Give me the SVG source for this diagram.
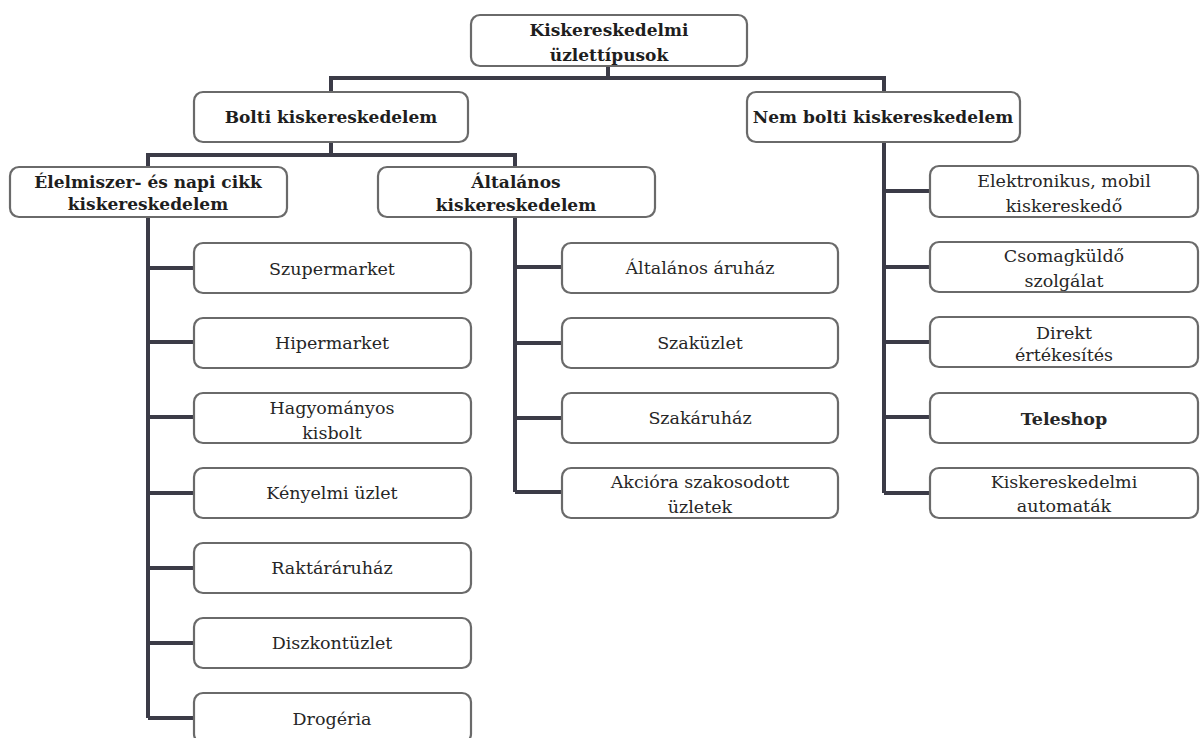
<svg xmlns="http://www.w3.org/2000/svg" width="1201" height="738" viewBox="0 0 1201 738">
<style>
.box{fill:#fff;stroke:#6a6a6a;stroke-width:2.2}
.h{font-family:"DejaVu Serif","Liberation Serif",serif;font-weight:bold;font-size:17px;fill:#1e1e1e;text-anchor:middle}
.t{font-family:"DejaVu Serif","Liberation Serif",serif;font-size:17.5px;fill:#262626;text-anchor:middle}
.b{font-weight:bold}
.c{fill:none;stroke:#3b3b47;stroke-width:4}
</style>
<rect width="1201" height="738" fill="#fff"/>
<g id="connectors" class="c">
<path d="M608,66 V78 M331,92 V78 H884 V92"/>
<path d="M331,142 V155 M148,167 V155 H515 V167"/>
<path d="M148,217 V718 M148,268 H194 M148,342 H194 M148,417 H194 M148,493 H194 M148,568 H194 M148,643 H194 M148,718 H194"/>
<path d="M515,217 V492 M515,267 H562 M515,343 H562 M515,418 H562 M515,492 H562"/>
<path d="M884,142 V493 M884,191 H930 M884,267 H930 M884,342 H930 M884,417 H930 M884,493 H930"/>
</g>
<g id="root"><rect class="box" x="471" y="15" width="276" height="51" rx="9"/><text class="h" x="609" y="36">Kiskereskedelmi</text><text class="h" x="609" y="61">üzlettípusok</text></g>
<g id="bolti"><rect class="box" x="194" y="92" width="274" height="50" rx="9"/><text class="h" x="331" y="123">Bolti kiskereskedelem</text></g>
<g id="nembolti"><rect class="box" x="747" y="92" width="273" height="50" rx="9"/><text class="h" x="883" y="123">Nem bolti kiskereskedelem</text></g>
<g id="elelmiszer"><rect class="box" x="10" y="167" width="277" height="50" rx="9"/><text class="h" x="148" y="188">Élelmiszer- és napi cikk</text><text class="h" x="148" y="210">kiskereskedelem</text></g>
<g id="altalanos"><rect class="box" x="378" y="167" width="277" height="50" rx="9"/><text class="h" x="516" y="188">Általános</text><text class="h" x="516" y="211">kiskereskedelem</text></g>
<g id="szupermarket"><rect class="box" x="194" y="243" width="277" height="50" rx="9"/><text class="t" x="332" y="275">Szupermarket</text></g>
<g id="hipermarket"><rect class="box" x="194" y="318" width="277" height="50" rx="9"/><text class="t" x="332" y="349">Hipermarket</text></g>
<g id="hagyomanyos"><rect class="box" x="194" y="393" width="277" height="50" rx="9"/><text class="t" x="332" y="414">Hagyományos</text><text class="t" x="332" y="439">kisbolt</text></g>
<g id="kenyelmi"><rect class="box" x="194" y="468" width="277" height="50" rx="9"/><text class="t" x="332" y="499">Kényelmi üzlet</text></g>
<g id="raktar"><rect class="box" x="194" y="543" width="277" height="50" rx="9"/><text class="t" x="332" y="574">Raktáráruház</text></g>
<g id="diszkont"><rect class="box" x="194" y="618" width="277" height="50" rx="9"/><text class="t" x="332" y="649">Diszkontüzlet</text></g>
<g id="drogeria"><rect class="box" x="194" y="693" width="277" height="50" rx="9"/><text class="t" x="332" y="725">Drogéria</text></g>
<g id="altaruhaz"><rect class="box" x="562" y="243" width="276" height="50" rx="9"/><text class="t" x="700" y="274">Általános áruház</text></g>
<g id="szakuzlet"><rect class="box" x="562" y="318" width="276" height="50" rx="9"/><text class="t" x="700" y="349">Szaküzlet</text></g>
<g id="szakaruhaz"><rect class="box" x="562" y="393" width="276" height="50" rx="9"/><text class="t" x="700" y="424">Szakáruház</text></g>
<g id="akciora"><rect class="box" x="562" y="468" width="276" height="50" rx="9"/><text class="t" x="700" y="488">Akcióra szakosodott</text><text class="t" x="700" y="513">üzletek</text></g>
<g id="elektronikus"><rect class="box" x="930" y="166" width="268" height="51" rx="9"/><text class="t" x="1064" y="187">Elektronikus, mobil</text><text class="t" x="1064" y="212">kiskereskedő</text></g>
<g id="csomagkuldo"><rect class="box" x="930" y="242" width="268" height="50" rx="9"/><text class="t" x="1064" y="262">Csomagküldő</text><text class="t" x="1064" y="287">szolgálat</text></g>
<g id="direkt"><rect class="box" x="930" y="317" width="268" height="50" rx="9"/><text class="t" x="1064" y="339">Direkt</text><text class="t" x="1064" y="361">értékesítés</text></g>
<g id="teleshop"><rect class="box" x="930" y="393" width="268" height="50" rx="9"/><text class="t b" x="1064" y="425">Teleshop</text></g>
<g id="automatak"><rect class="box" x="930" y="468" width="268" height="50" rx="9"/><text class="t" x="1064" y="488">Kiskereskedelmi</text><text class="t" x="1064" y="512">automaták</text></g>
</svg>
